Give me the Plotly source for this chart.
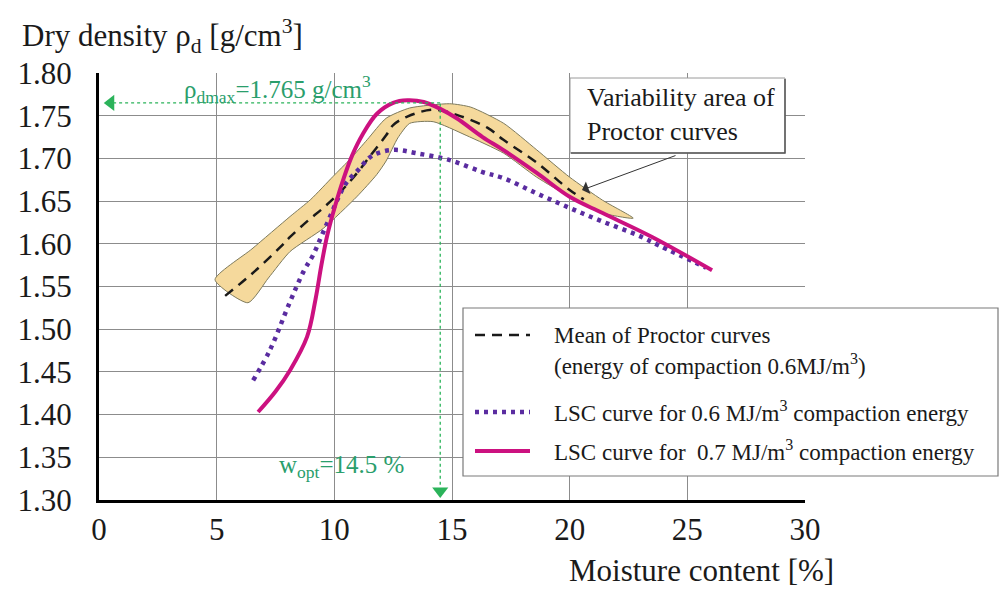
import plotly.graph_objects as go

# ---- data (moisture content %, dry density g/cm3) ----
mean_w = [5.36, 6.5, 7.7, 8.12, 8.83, 9.53, 10.3, 10.97, 11.5, 12.2, 12.5, 13.1, 14.2, 15.2, 16.5, 17.17, 18.6, 20.0, 20.6]
mean_rho = [1.539, 1.565, 1.596, 1.608, 1.626, 1.642, 1.662, 1.683, 1.702, 1.727, 1.739, 1.749, 1.757, 1.751, 1.736, 1.722, 1.695, 1.663, 1.652]

band_upper_w = [4.93, 6.5, 8.12, 9.0, 9.95, 10.7, 11.4, 12.2, 13.2, 14.9, 15.8, 17.2, 18.6, 20.0, 21.4, 22.7]
band_upper_rho = [1.558, 1.594, 1.632, 1.652, 1.679, 1.700, 1.722, 1.747, 1.759, 1.764, 1.760, 1.741, 1.710, 1.678, 1.651, 1.630]
band_lower_w = [6.33, 7.2, 8.12, 9.53, 10.95, 11.8, 12.2, 12.7, 13.2, 14.2, 15.6, 17.2, 18.6, 20.0, 21.4]
band_lower_rho = [1.531, 1.560, 1.591, 1.618, 1.655, 1.681, 1.697, 1.724, 1.741, 1.743, 1.727, 1.706, 1.678, 1.655, 1.636]

lsc06_w = [6.55, 7.27, 8.1, 8.7, 9.1, 9.47, 9.82, 10.17, 10.5, 11.0, 11.6, 12.5, 13.5, 14.9, 16.3, 17.17, 18.6, 20.0, 21.4, 22.9, 23.8, 25.8]
lsc06_rho = [1.440, 1.476, 1.531, 1.568, 1.587, 1.610, 1.632, 1.654, 1.671, 1.686, 1.703, 1.710, 1.706, 1.698, 1.684, 1.677, 1.659, 1.642, 1.626, 1.610, 1.598, 1.572]

lsc07_w = [6.76, 7.5, 8.12, 8.84, 9.2, 9.45, 9.7, 10.05, 10.4, 10.75, 11.2, 11.8, 12.5, 13.1, 13.8, 14.5, 15.2, 16.3, 17.17, 18.6, 20.0, 21.4, 23.5, 26.05]
lsc07_rho = [1.403, 1.427, 1.452, 1.491, 1.535, 1.575, 1.610, 1.646, 1.677, 1.703, 1.728, 1.752, 1.765, 1.768, 1.766, 1.758, 1.747, 1.725, 1.710, 1.683, 1.655, 1.636, 1.608, 1.569]

rho_dmax = 1.765
w_opt = 14.5

x_ticks = [0, 5, 10, 15, 20, 25, 30]
y_ticks = [1.30, 1.35, 1.40, 1.45, 1.50, 1.55, 1.60, 1.65, 1.70, 1.75, 1.80]

# ---- page geometry ----
W, H = 1003, 590
L, R, T, B = 99, 805, 73, 500


def px(xp):
    return (xp - L) / (R - L)


def py(yp):
    return (B - yp) / (B - T)


FONT = "Liberation Serif"
INK = "#1a1a1a"
GREEN_TXT = "#2a9e6c"
GREEN = "#2bb35a"
MAGENTA = "#cc1180"
PURPLE = "#5a2ca0"
DASH = "10px,7px"
DOTS = "4px,5px"

fig = go.Figure()

# variability band of Proctor curves
fig.add_trace(go.Scatter(
    x=band_upper_w + band_lower_w[::-1] + [band_upper_w[0]],
    y=band_upper_rho + band_lower_rho[::-1] + [band_upper_rho[0]],
    mode="lines", fill="toself", fillcolor="#f5d99c",
    line=dict(color="#7d7a5c", width=1, shape="spline", smoothing=0.6),
    hoverinfo="skip", showlegend=False))

fig.add_trace(go.Scatter(
    x=mean_w, y=mean_rho, mode="lines",
    line=dict(color=INK, width=2.5, dash=DASH, shape="spline", smoothing=1.0),
    showlegend=False))

fig.add_trace(go.Scatter(
    x=lsc06_w, y=lsc06_rho, mode="lines",
    line=dict(color=PURPLE, width=4.5, dash=DOTS, shape="spline", smoothing=1.0),
    showlegend=False))

fig.add_trace(go.Scatter(
    x=lsc07_w, y=lsc07_rho, mode="lines",
    line=dict(color=MAGENTA, width=4, shape="spline", smoothing=1.0),
    showlegend=False))

# arrowheads of the optimum guide lines
fig.add_trace(go.Scatter(
    x=[0.5], y=[rho_dmax], mode="markers",
    marker=dict(symbol="triangle-left", size=14, color=GREEN),
    hoverinfo="skip", showlegend=False))
fig.add_trace(go.Scatter(
    x=[w_opt], y=[1.3105], mode="markers",
    marker=dict(symbol="triangle-down", size=14, color=GREEN),
    hoverinfo="skip", showlegend=False))

shapes = [
    # optimum guide lines
    dict(type="line", xref="x", yref="y", x0=0.6, x1=w_opt, y0=rho_dmax, y1=rho_dmax,
         line=dict(color=GREEN, width=1.3, dash="dot")),
    dict(type="line", xref="x", yref="y", x0=w_opt, x1=w_opt, y0=1.318, y1=rho_dmax,
         line=dict(color=GREEN, width=1.3, dash="dot")),
    # white patch behind the w_opt label
    dict(type="rect", xref="paper", yref="paper", layer="between",
         x0=px(262), x1=px(415), y0=py(490), y1=py(443),
         fillcolor="white", line=dict(width=0)),
    # callout box
    dict(type="rect", xref="paper", yref="paper",
         x0=px(570), x1=px(785), y0=py(153), y1=py(78),
         fillcolor="white", line=dict(color="#9a9a9a", width=1)),
    dict(type="path", xref="paper", yref="paper",
         path=f"M {px(785)},{py(79)} L {px(785)},{py(153)} L {px(571)},{py(153)}",
         line=dict(color="#555555", width=1.5)),
    # legend box
    dict(type="rect", xref="paper", yref="paper",
         x0=px(463), x1=px(998), y0=py(476), y1=py(308),
         fillcolor="white", line=dict(color="#7a7a7a", width=1.2)),
    dict(type="line", xref="paper", yref="paper", x0=px(475), x1=px(530), y0=py(335), y1=py(335),
         line=dict(color=INK, width=2.5, dash=DASH)),
    dict(type="line", xref="paper", yref="paper", x0=px(475), x1=px(530), y0=py(412), y1=py(412),
         line=dict(color=PURPLE, width=4.5, dash=DOTS)),
    dict(type="line", xref="paper", yref="paper", x0=px(475), x1=px(530), y0=py(451), y1=py(451),
         line=dict(color=MAGENTA, width=4)),
]

annotations = [
    dict(text="Dry density \u03c1<sub>d</sub> [g/cm<sup>3</sup>]", xref="paper", yref="paper",
         x=px(20), y=py(36), xanchor="left", yanchor="middle", showarrow=False,
         font=dict(family=FONT, size=31, color=INK)),
    dict(text="Moisture content [%]", xref="paper", yref="paper",
         x=px(567), y=py(570), xanchor="left", yanchor="middle", showarrow=False,
         font=dict(family=FONT, size=31, color=INK)),
    dict(text="\u03c1<sub>dmax</sub>=1.765 g/cm<sup>3</sup>", xref="paper", yref="paper",
         x=px(182), y=py(89), xanchor="left", yanchor="middle", showarrow=False,
         font=dict(family=FONT, size=25, color=GREEN_TXT)),
    dict(text="w<sub>opt</sub>=14.5 %", xref="paper", yref="paper",
         x=px(277), y=py(466), xanchor="left", yanchor="middle", showarrow=False,
         font=dict(family=FONT, size=25, color=GREEN_TXT)),
    dict(text="Variability area of<br>Proctor curves", xref="paper", yref="paper",
         x=px(585), y=py(114), xanchor="left", yanchor="middle", align="left", showarrow=False,
         font=dict(family=FONT, size=26, color=INK)),
    dict(text="", xref="paper", yref="paper", axref="pixel", ayref="pixel",
         x=px(582), y=py(190), ax=95, ay=-35, showarrow=True,
         arrowhead=1, arrowsize=2.2, arrowwidth=1, arrowcolor="#333333"),
    dict(text="Mean of Proctor curves", xref="paper", yref="paper",
         x=px(552), y=py(335), xanchor="left", yanchor="middle", showarrow=False,
         font=dict(family=FONT, size=23, color=INK)),
    dict(text="(energy of compaction 0.6MJ/m<sup>3</sup>)", xref="paper", yref="paper",
         x=px(552), y=py(364), xanchor="left", yanchor="middle", showarrow=False,
         font=dict(family=FONT, size=23, color=INK)),
    dict(text="LSC curve for 0.6 MJ/m<sup>3</sup> compaction energy", xref="paper", yref="paper",
         x=px(552), y=py(411), xanchor="left", yanchor="middle", showarrow=False,
         font=dict(family=FONT, size=23, color=INK)),
    dict(text="LSC curve for \u00a00.7 MJ/m<sup>3</sup> compaction energy", xref="paper", yref="paper",
         x=px(552), y=py(450), xanchor="left", yanchor="middle", showarrow=False,
         font=dict(family=FONT, size=23, color=INK)),
]

fig.update_layout(
    width=W, height=H,
    margin=dict(l=L, r=W - R, t=T, b=H - B, pad=0),
    paper_bgcolor="white", plot_bgcolor="white",
    showlegend=False,
    shapes=shapes, annotations=annotations,
    xaxis=dict(range=[0, 30], tickvals=x_ticks, ticktext=[str(v) for v in x_ticks],
               showgrid=True, gridcolor="#8c8c8c", gridwidth=1, zeroline=False,
               showline=True, linecolor="black", linewidth=3, ticks="",
               automargin=False, ticklabelstandoff=0,
               tickfont=dict(family=FONT, size=31, color=INK)),
    yaxis=dict(range=[1.30, 1.80], tickvals=y_ticks, ticktext=[f"{v:.2f}" for v in y_ticks],
               showgrid=True, gridcolor="#8c8c8c", gridwidth=1, zeroline=False,
               showline=True, linecolor="black", linewidth=3, ticks="",
               automargin=False, ticklabelstandoff=18,
               tickfont=dict(family=FONT, size=31, color=INK)),
)

fig.write_html("out.html")
